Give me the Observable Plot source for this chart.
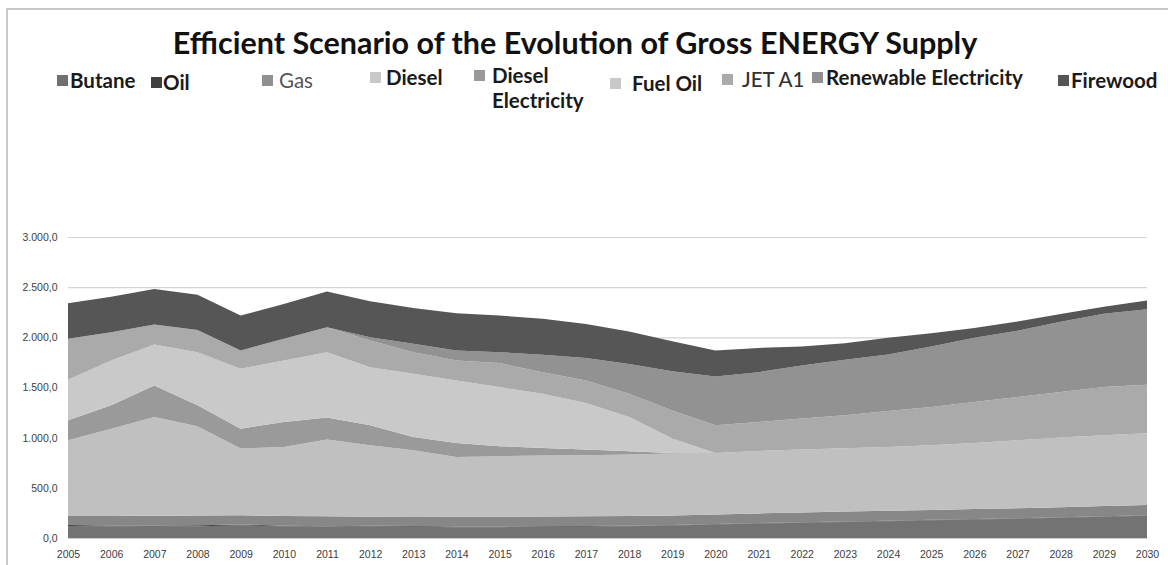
<!DOCTYPE html>
<html><head><meta charset="utf-8">
<script src="https://cdn.jsdelivr.net/npm/d3@7"></script>
<script src="https://cdn.jsdelivr.net/npm/@observablehq/plot@0.6"></script>
<style>
html,body{margin:0;padding:0;background:#fff;}
body{width:1168px;height:565px;overflow:hidden;position:relative;font-family:Lato,"Open Sans",sans-serif;}
#frame{position:absolute;left:6px;top:8px;width:1170px;height:600px;border-left:2px solid #c8c8c8;border-top:2px solid #c8c8c8;}
#title{position:absolute;left:0;width:1150px;top:23px;text-align:center;font-weight:700;font-size:30.5px;color:#111;line-height:38px;}
.lg{position:absolute;font-size:20.5px;font-weight:700;color:#1a1a1a;white-space:nowrap;line-height:24px;}
.sw{position:absolute;width:11px;height:11px;}
#chart{position:absolute;left:0;top:0;}
</style></head><body>
<div id="frame"></div>
<div id="chart"></div>
<div id="title">Efficient Scenario of the Evolution of Gross ENERGY Supply</div>
<div id="legend"></div>
<script>
const years = [2005,2006,2007,2008,2009,2010,2011,2012,2013,2014,2015,2016,2017,2018,2019,2020,2021,2022,2023,2024,2025,2026,2027,2028,2029,2030];
const seriesNames = ["Butane","Oil","Gas","Diesel","Diesel Electricity","Fuel Oil","JET A1","Renewable Electricity","Firewood"];
const butane   = [120,118,120,118,125,118,112,115,112,108,108,110,113,118,124,135,145,153,160,168,176,184,193,203,213,222];
const oil      = [10,6,5,8,10,5,5,8,7,6,6,6,6,5,5,5,5,5,5,5,5,5,5,5,5,5];
const gas      = [89,95,97,99,91,97,101,89,91,98,98,98,97,97,96,95,95,97,98,98,98,99,99,99,100,101];
const diesel   = [755,871,984,888,665,688,763,712,665,596,603,608,609,612,617,613,623,627,632,637,645,659,677,694,706,716];
const dieselEl = [199,232,315,209,199,248,219,199,132,139,100,76,57,33,6,0,0,0,0,0,0,0,0,0,0,0];
const fuelOil  = [404,448,407,530,597,614,652,580,630,624,589,540,464,341,143,0,0,0,0,0,0,0,0,0,0,0];
const jetA1    = [408,281,199,222,182,215,249,265,215,199,239,215,225,232,281,275,288,308,328,357,381,408,431,454,480,484];
const renewEl  = [0,0,0,0,0,0,0,33,83,99,109,173,222,295,391,487,497,530,553,564,604,640,660,700,730,753];
const firewood = [354,354,355,351,348,348,357,358,358,371,365,358,341,325,298,259,241,189,166,166,132,99,92,78,70,85];
const yTicks = [0,500,1000,1500,2000,2500,3000];
const seriesColors = ["#737373","#474747","#878787","#c0c0c0","#9a9a9a","#c9c9c9","#aaaaaa","#929292","#565656"];
const swatchColors = ["#707070","#404040","#909090","#c8c8c8","#999999","#c8c8c8","#aaaaaa","#909090","#555555"];

const seriesValues = [butane,oil,gas,diesel,dieselEl,fuelOil,jetA1,renewEl,firewood];
const rows = [];
seriesNames.forEach((s,i)=>years.forEach((y,j)=>rows.push({series:s,year:y,value:seriesValues[i][j]})));

const loc = d3.formatLocale({decimal:",",thousands:".",grouping:[3],currency:["",""]});
const yFmt = loc.format(",.1f");

const chart = Plot.plot({
  width:1168, height:565,
  marginLeft:68, marginRight:21, marginTop:237, marginBottom:27,
  style:{fontFamily:"'Liberation Sans', Arial, sans-serif", fontSize:"10.5px", color:"#404040", background:"transparent"},
  x:{type:"linear", domain:[2005,2030], ticks:years, tickFormat:d=>String(d), tickSize:0, tickPadding:12, label:null},
  y:{domain:[0,3000], ticks:yTicks, tickFormat:yFmt, tickSize:0, tickPadding:11, label:null},
  color:{domain:seriesNames, range:seriesColors},
  marks:[
    Plot.ruleY(yTicks.slice(1), {stroke:"#d4d4d4", strokeWidth:1.2}),
    Plot.areaY(rows, Plot.stackY({x:"year", y:"value", fill:"series", order:seriesNames})),
    Plot.ruleY([0], {stroke:"#cfcfcf", strokeWidth:1})
  ]
});
document.getElementById("chart").appendChild(chart);

const legendLayout = [
  {sx:57, tx:70, ty:68},
  {sx:151, tx:163, ty:70},
  {sx:262, tx:279, ty:68, weight:400, color:"#555"},
  {sx:370, tx:386, ty:65},
  {sx:474, tx:492, ty:63, two:true},
  {sx:610, tx:632, ty:71},
  {sx:722, tx:742, ty:67, weight:500, color:"#333"},
  {sx:812, tx:826, ty:65},
  {sx:1058, tx:1071, ty:68}
];
const lg = document.getElementById("legend");
seriesNames.forEach((s,i)=>{
  const L = legendLayout[i];
  const sw = document.createElement("div");
  sw.className="sw"; sw.style.left=L.sx+"px"; sw.style.top=(L.ty+7)+"px"; sw.style.background=swatchColors[i];
  lg.appendChild(sw);
  const t = document.createElement("div");
  t.className="lg"; t.style.left=L.tx+"px"; t.style.top=L.ty+"px";
  if(L.weight) t.style.fontWeight=L.weight;
  if(L.color) t.style.color=L.color;
  if(L.two){ t.innerHTML = "Diesel<br>Electricity"; t.style.lineHeight="25px"; }
  else t.textContent = s;
  lg.appendChild(t);
});
</script>
</body></html>
